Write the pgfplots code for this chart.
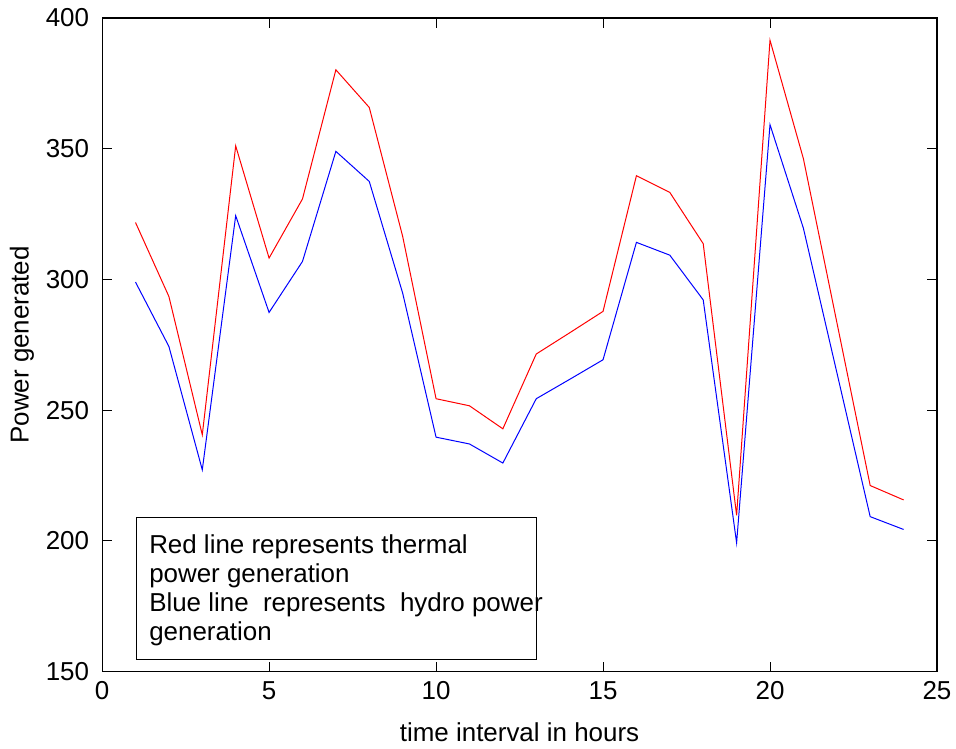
\documentclass[border=0pt]{standalone}
\usepackage{fontspec}
\setmainfont{Liberation Sans}
\usepackage{pgfplots}
\pgfplotsset{compat=1.18}

\pgfplotstableread{
hour thermal hydro
1  321.8 299.0
2  293.5 274.4
3  240.6 227.2
4  351.1 324.4
5  308.2 287.4
6  330.8 306.9
7  380.2 349.0
8  365.8 337.5
9  316.5 294.8
10 254.4 239.7
11 251.7 237.1
12 242.9 229.8
13 271.5 254.4
14 279.6 261.8
15 287.8 269.3
16 339.7 314.2
17 333.3 309.3
18 313.7 292.2
19 209.8 199.3
20 391.5 359.2
21 346.2 319.6
22 283.7 264.5
23 221.2 209.3
24 215.7 204.4
}\powerdata

\begin{document}
\begin{tikzpicture}
\useasboundingbox (-51bp,-38.5bp) rectangle (426.5bp,335.5bp);
\begin{axis}[
    at={(0,0)}, anchor=south west,
    scale only axis,
    width=417bp, height=326.5bp,
    xmin=0, xmax=25, ymin=150, ymax=400,
    xtick={0,5,...,25}, ytick={150,200,...,400},
    tick align=inside,
    major tick length=5bp,
    axis line style={line width=0.6bp},
    every tick/.style={black, line width=0.5bp},
    /pgf/number format/assume math mode=true,
    tick label style={font=\fontsize{13}{15}\selectfont},
    xticklabel style={yshift=-1.5bp},
    yticklabel style={xshift=-3bp},
    label style={font=\fontsize{13}{15}\selectfont},
    xlabel={time interval in hours},
    ylabel={Power generated},
    xlabel style={at={(axis description cs:0.5,0)}, anchor=center, yshift=-30bp},
    ylabel style={at={(axis description cs:0,0.5)}, anchor=center, yshift=40bp},
    clip=false,
]
\addplot[red, line width=0.5bp] table[x=hour, y=thermal] {\powerdata};
\addplot[blue, line width=0.5bp] table[x=hour, y=hydro] {\powerdata};
\draw[line width=0.5bp] (axis cs:1.02,208.9) rectangle (axis cs:13.02,154.5);
\node[anchor=north west, align=left, inner sep=0pt,
      font=\fontsize{13}{14.5}\selectfont]
    at (axis cs:1.4,202.5)
    {Red line represents thermal\\power generation\\Blue line~ represents~ hydro power\\generation};
\end{axis}
\end{tikzpicture}
\end{document}
